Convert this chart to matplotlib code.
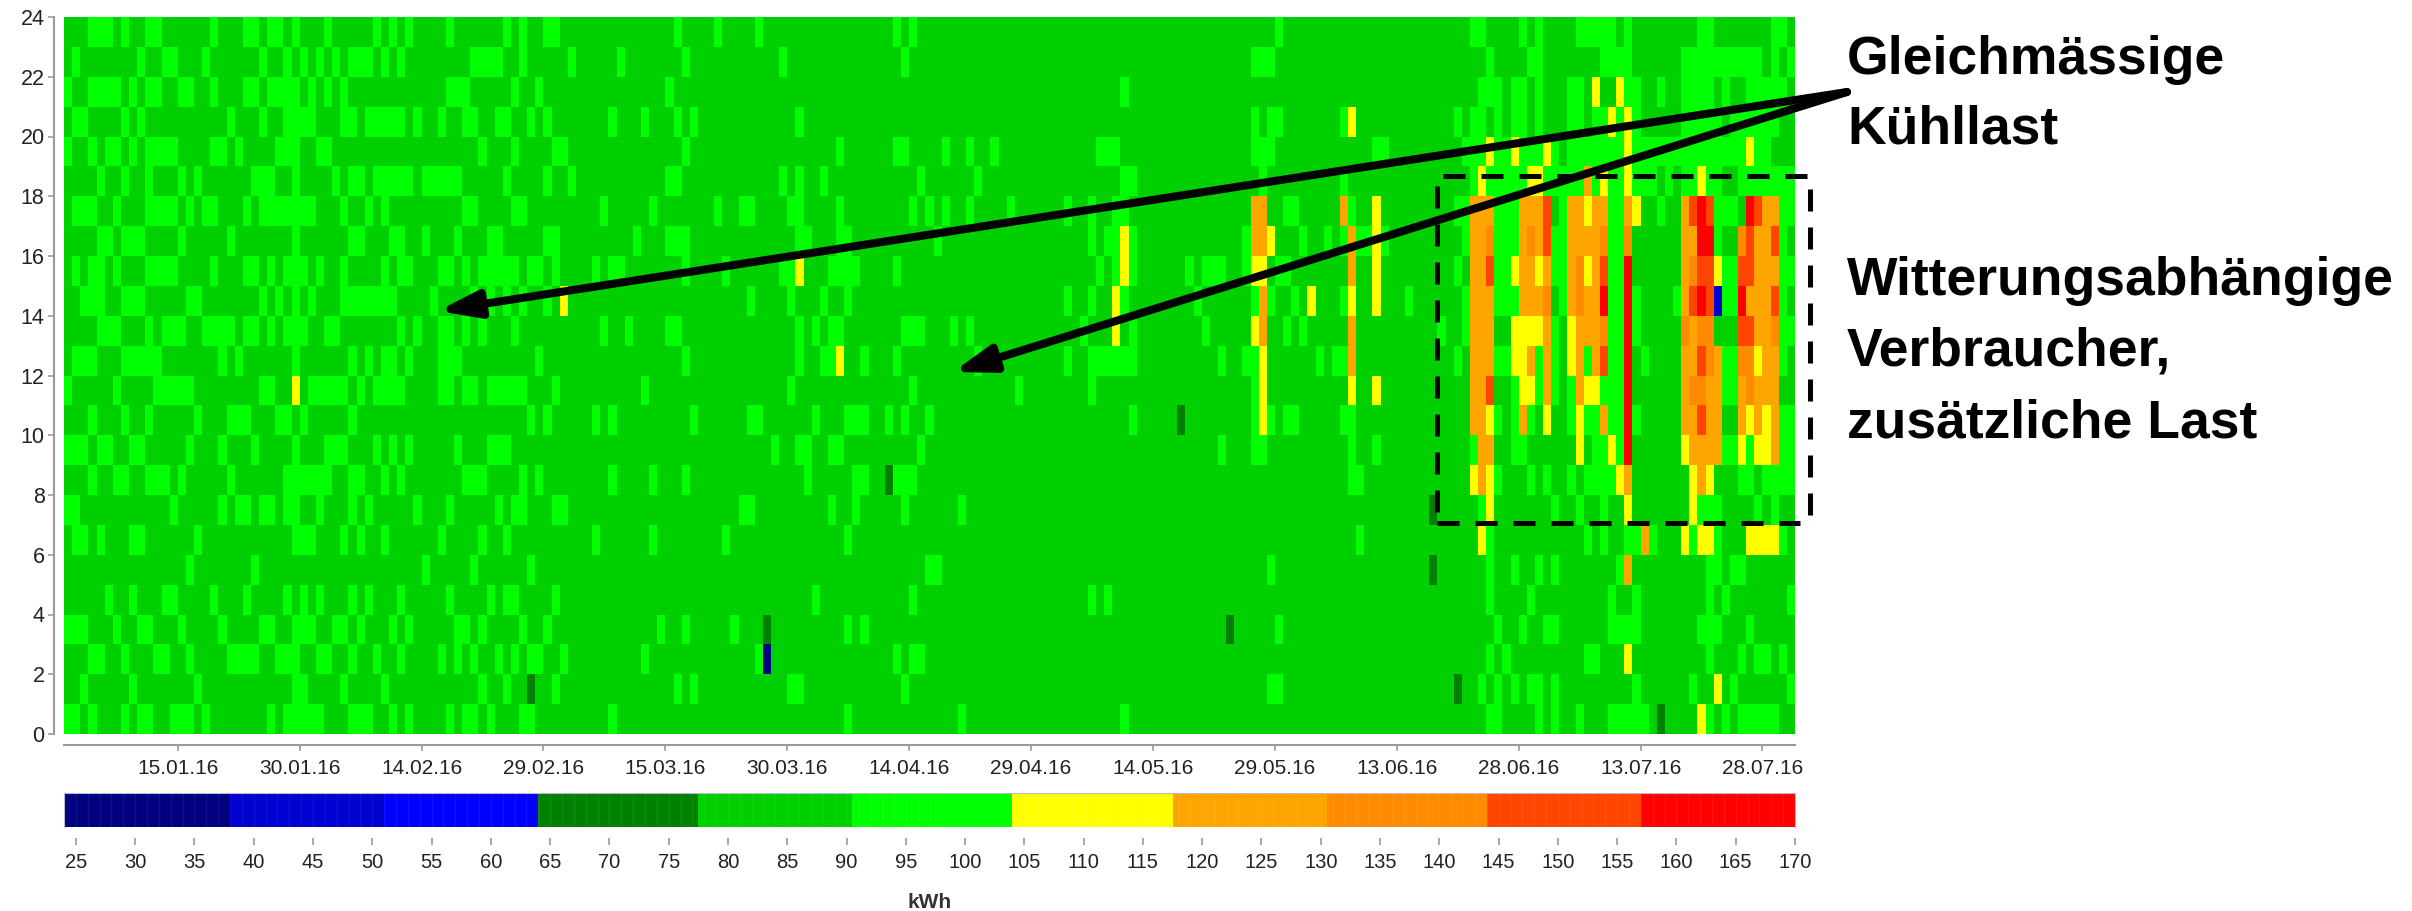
import numpy as np
import matplotlib
matplotlib.use("Agg")
import matplotlib.pyplot as plt
from matplotlib.colors import ListedColormap, BoundaryNorm

plt.rcParams['font.family'] = ['Liberation Sans', 'DejaVu Sans']

W, H = 2412, 911

n_days = 213
n_hours = 24
hour_ticks = list(range(0, 25, 2))
date_ticks = [14, 29, 44, 59, 74, 89, 104, 119, 134, 149, 164, 179, 194, 209]
date_labels = ['15.01.16', '30.01.16', '14.02.16', '29.02.16', '15.03.16', '30.03.16', '14.04.16',
               '29.04.16', '14.05.16', '29.05.16', '13.06.16', '28.06.16', '13.07.16', '28.07.16']
kwh_ticks = list(range(25, 171, 5))

# colour bands of the kWh scale
band_edges = [24, 37.9, 51, 64.2, 77.3, 90.4, 104, 117.4, 130.6, 143.8, 156.8, 170]
band_colors = ['#000080', '#0000d0', '#0000ff', '#008000', '#00d000', '#00ff00',
               '#ffff00', '#ffa500', '#ff8c00', '#ff4500', '#ff0000']

# typical load (most cells) and the light green cells per hour
base_load = 85
light_load = 97
light_days = {
    23: [3,4,5,7,10,11,18,22,23,25,26,28,32,38,40,42,47,54,56,59,60,75,80,85,102,104,149,173,174,179,181,186,187,188,189,190,192,201,202,210,211],
    22: [1,9,12,13,17,24,27,29,31,33,35,36,37,39,41,50,51,52,53,56,62,68,76,88,103,146,147,148,175,180,181,189,190,191,192,199,200,201,202,203,204,205,206,207,208,210,212],
    21: [0,3,4,5,6,8,10,11,14,15,18,22,23,25,26,27,28,30,32,34,47,48,49,55,58,74,130,174,175,176,178,179,181,185,186,192,193,196,199,200,201,202,204,207,208,209,210,211],
    20: [1,2,7,9,20,24,27,28,29,30,34,35,37,38,39,40,41,43,46,49,50,53,54,57,59,67,71,75,77,90,146,148,149,157,171,173,174,176,178,179,181,185,186,188,189,191,193,199,200,201,202,203,205,206,207,208,209,210],
    19: [0,3,5,6,8,10,11,12,13,18,19,21,26,27,28,31,32,51,55,60,61,76,95,102,103,108,111,114,127,128,129,146,147,148,161,162,172,173,174,176,177,179,180,181,183,185,186,187,188,189,190,191,193,194,195,196,197,198,199,200,201,202,203,204,205,206,208,209],
    18: [4,7,10,14,16,23,24,25,28,33,35,36,38,39,40,41,42,44,45,46,47,48,54,59,62,74,75,88,90,93,105,112,130,131,147,157,173,175,176,177,178,179,182,183,184,185,186,188,190,191,193,194,195,197,199,200,202,203,206,207,208,209,210,211,212],
    17: [1,2,3,6,10,11,12,13,15,17,18,22,24,25,26,27,28,29,30,34,37,39,49,50,55,56,66,72,80,83,84,89,90,95,104,106,108,111,116,123,126,129,130,150,151,158,171,172,176,177,178,184,190,191,196,203,204,205,211,212],
    16: [4,5,7,8,9,14,20,28,35,36,40,41,44,48,52,53,59,60,70,74,75,76,90,91,95,96,107,126,128,129,131,145,152,155,157,159,160,162,172,176,177,178,183,184,190,191,203,211],
    15: [1,3,4,6,10,11,12,13,18,22,23,25,27,28,29,31,34,39,41,42,46,47,49,51,52,53,54,55,57,58,60,65,67,68,76,81,88,89,94,95,96,97,102,127,129,131,138,140,141,142,145,149,150,171,176,177,183,184,190,191,204,205,211,212],
    14: [2,3,4,7,8,9,15,16,24,26,28,30,34,35,36,37,38,39,40,45,50,52,54,56,59,84,89,93,96,123,126,130,139,146,148,151,157,165,172,176,177,178,184,190,191,193,198,204,205,211],
    13: [4,5,6,10,12,13,14,17,18,19,20,22,23,25,27,28,29,32,33,41,43,46,47,49,51,55,66,69,74,75,90,92,94,95,103,104,105,109,111,125,131,140,150,152,169,172,183,190,191,193,211,212],
    12: [1,2,3,7,8,9,10,11,19,21,28,35,37,39,40,42,46,47,48,58,76,90,93,94,98,102,112,123,126,127,128,129,130,131,142,145,146,154,156,157,171,176,177,181,183,187,190,191,194,204,205,211],
    11: [0,6,11,12,13,14,15,24,25,30,31,32,33,34,36,38,39,40,41,46,47,49,50,52,53,54,55,56,60,71,89,104,117,126,146,178,181,183,185,189,190,191,204,205],
    10: [3,7,10,16,20,21,22,26,27,29,35,57,59,65,67,77,84,85,92,96,97,98,101,103,106,131,146,148,150,151,157,158,176,178,180,185,187,188,190,191,193,211,212],
    9: [0,1,2,4,5,8,9,15,19,23,28,32,33,34,38,40,42,48,52,53,54,87,90,91,94,95,105,142,146,147,158,161,173,178,179,188,189,191,204,205,207,211,212],
    8: [3,6,7,10,11,12,14,20,27,28,29,30,31,32,35,36,39,41,49,50,51,56,58,67,72,76,91,97,98,102,103,104,158,159,176,180,182,185,187,188,189,190,206,207,209,210,211,212],
    7: [0,1,13,19,21,22,24,25,27,28,31,35,37,43,47,53,55,56,60,61,83,84,94,97,103,110,174,183,186,189,201,202,203,208,210],
    6: [1,2,4,8,9,16,28,29,30,34,36,39,46,51,54,65,72,81,96,159,175,187,189,192,193,195,200,203,211],
    5: [15,23,44,50,57,106,107,148,175,178,181,183,191,202,203,205,206],
    4: [5,8,12,13,18,22,27,29,31,35,37,41,47,52,54,55,60,92,104,126,128,175,180,190,193,202,204,212],
    3: [0,1,2,6,9,10,14,19,24,25,28,29,30,33,34,36,40,42,48,49,51,56,59,73,76,82,96,98,149,176,179,182,183,190,191,192,193,201,202,203,207],
    2: [3,4,7,11,12,15,20,21,22,23,26,27,28,31,32,35,38,41,46,48,50,53,55,57,58,61,71,85,102,104,105,175,177,187,188,202,206,208,209,211],
    1: [2,8,16,28,29,34,39,51,54,60,75,77,89,90,103,148,149,174,176,178,180,181,183,193,200,205,212],
    0: [0,1,3,7,9,10,13,14,15,17,25,27,28,29,30,31,35,36,37,40,42,47,49,50,52,56,57,67,96,110,130,175,176,181,183,186,190,191,192,193,194,202,204,206,207,208,209,210],
}

# the remaining levels: {hour: days}
low_navy = {2: [86]}
low_blue = {14: [203]}
low_dark = {1: [57,171], 0: [196], 3: [86,143], 5: [168], 7: [168], 8: [101], 10: [137]}
high_yellow = {
    23: [], 21: [188,191], 20: [158,190,192], 19: [175,178,182,192,207],
    18: [174,180,181,189,192,201], 17: [161,187,193], 16: [130,148,161],
    15: [90,130,146,147,161,178,181,187,203], 14: [61,129,153,158,161],
    13: [129,146,178,179,180,181,185], 12: [95,147,178,179,185,208],
    11: [28,147,158,161,179,180,187,188], 10: [147,175,182,186,207,209],
    9: [186,190,199,206,208,209], 8: [173,175,191,200,202], 7: [175,192,200],
    6: [174,199,201,202,207,208,209,210], 2: [192], 1: [203], 0: [201],
}
high_orange = {
    18: [187], 17: [146,147,157,173,174,175,179,180,181,185,186,188,189,192,199,209,210],
    16: [146,147,158,173,174,179,181,185,186,187,188,199,200,208,209],
    15: [158,173,174,179,180,182,185,188,199,208,209,210],
    14: [147,173,174,175,179,180,181,185,187,188,199,207,208,209],
    13: [147,158,173,174,175,182,186,187,188,200,208,209],
    12: [158,173,174,175,180,182,186,188,199,200,203,209,210],
    11: [173,174,182,186,199,202,203,206,208,209,210],
    10: [173,174,179,189,199,200,202,203,206,208,210],
    9: [174,175,200,201,202,203,210], 8: [174,192,201], 6: [194], 5: [192],
}
high_deep = {
    16: [175,180,189,192,206], 15: [186,200], 14: [182,186],
    13: [189,199,201,202,210], 12: [202,206,207], 11: [200,201,207],
}
high_redorange = {
    17: [182,200,202,208], 16: [182,207,210], 15: [175,189,201,202,206,207],
    14: [200,202,210], 13: [206,207], 12: [189,201], 11: [175], 10: [201],
}
high_red = {
    17: [201,207], 16: [201,202], 15: [192], 14: [189,192,201,206], 13: [192],
    12: [192], 11: [192], 10: [192], 9: [192],
}

grid = np.full((n_hours, n_days), float(base_load))
for cells, load in [(light_days, light_load), (low_navy, 30), (low_blue, 45), (low_dark, 70),
                    (high_yellow, 110), (high_orange, 124), (high_deep, 136),
                    (high_redorange, 150), (high_red, 163)]:
    for hour, days in cells.items():
        grid[hour, days] = load

cmap = ListedColormap(band_colors)
norm = BoundaryNorm(band_edges, cmap.N)


def px_axes(left, top, right, bottom):
    return fig.add_axes([left / W, 1 - bottom / H, (right - left) / W, (bottom - top) / H])


fig = plt.figure(figsize=(W / 100, H / 100), dpi=100)

# heat map
ax = px_axes(64, 17, 1795, 734)
ax.pcolormesh(np.arange(n_days + 1), np.arange(n_hours + 1), grid, cmap=cmap, norm=norm,
              antialiased=False, linewidth=0)
ax.set_xlim(0, n_days)
ax.set_ylim(0, n_hours)
ax.set_yticks(hour_ticks)
ax.set_xticks(date_ticks)
ax.set_xticklabels(date_labels)
ax.spines['top'].set_visible(False)
ax.spines['right'].set_visible(False)
ax.spines['left'].set_position(('outward', 7))
ax.spines['bottom'].set_position(('outward', 8))
for side in ['left', 'bottom']:
    ax.spines[side].set_color('#9a9a9a')
    ax.spines[side].set_linewidth(1.5)
ax.tick_params(axis='x', length=4, width=1.2, color='#9a9a9a', labelsize=15, labelcolor='#222222', pad=6)
ax.tick_params(axis='y', length=4, width=1.2, color='#9a9a9a', labelsize=15.5, labelcolor='#222222', pad=3)

# colour scale
cax = px_axes(64, 793, 1795, 827)
scale_x = np.arange(24, 170.5, 0.5)
cax.pcolormesh(scale_x, [0, 1], np.array([scale_x[:-1] + 0.25]), cmap=cmap, norm=norm,
               antialiased=False, linewidth=0)
cax.vlines(np.arange(25, 170), 0, 1, color='white', alpha=0.07, linewidth=1)
cax.set_xlim(24, 170)
cax.set_ylim(0, 1)
cax.set_yticks([])
cax.set_xticks(kwh_ticks)
for side in ['top', 'left', 'right', 'bottom']:
    cax.spines[side].set_color('#b8b8c8')
    cax.spines[side].set_linewidth(0.8)
cax.tick_params(axis='x', length=5, width=1.2, color='#9a9a9a', labelsize=14.5, labelcolor='#222222', pad=5.5)
cax.spines['bottom'].set_position(('outward', 8))
cax.spines['bottom'].set_visible(False)
cax.set_xlabel('kWh', fontsize=15, fontweight='bold', color='#333333', labelpad=15.5)

# annotations on top, in picture pixels
ov = fig.add_axes([0, 0, 1, 1], facecolor='none')
ov.set_xlim(0, W)
ov.set_ylim(H, 0)
ov.axis('off')

for tip in [(438, 311), (953, 372)]:
    ov.annotate('', xy=tip, xytext=(1847, 92),
                arrowprops=dict(arrowstyle='-|>,head_length=24,head_width=8', mutation_scale=1,
                                color='black', lw=5.8, shrinkA=0, shrinkB=0, capstyle='round'))

dash = dict(color='black', lw=3.6, linestyle=(0, (4.4, 3.2)))
ov.plot([1443, 1810], [176, 176], **dash)
ov.plot([1437, 1800], [523, 523], **dash)
ov.plot([1437, 1437], [186, 512], **dash)
ov.plot([1810, 1810], [189, 516], **dash)

notes = [('Gleichmässige', 74), ('Kühllast', 144), ('Witterungsabhängige', 295),
         ('Verbraucher,', 365), ('zusätzliche Last', 437)]
for note, base in notes:
    ov.text(1847, base, note, fontsize=38.5, fontweight='bold', color='black', va='baseline', ha='left')

fig.savefig('out.png', dpi=100)
